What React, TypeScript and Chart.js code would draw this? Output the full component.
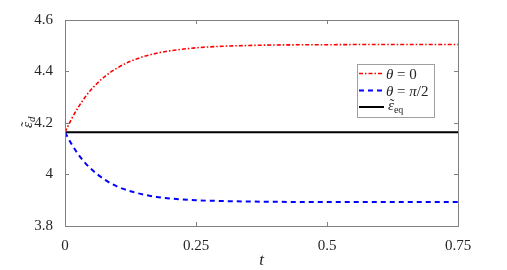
import React, { useEffect, useRef } from "react";
import { Chart, registerables } from "chart.js";

Chart.register(...registerables);

const tValues = [0, 0.0125, 0.025, 0.0375, 0.05, 0.075, 0.1, 0.125, 0.15, 0.175, 0.2, 0.25, 0.3, 0.35, 0.4, 0.5, 0.6, 0.75];
const thetaZero = [4.164, 4.216, 4.26, 4.298, 4.33, 4.379, 4.414, 4.44, 4.458, 4.471, 4.48, 4.492, 4.498, 4.501, 4.503, 4.504, 4.505, 4.505];
const thetaHalfPi = [4.164, 4.118, 4.079, 4.047, 4.021, 3.981, 3.953, 3.935, 3.922, 3.913, 3.907, 3.9, 3.897, 3.895, 3.894, 3.893, 3.893, 3.893];
const eqT = [0, 0.75];
const eqValue = 4.164;
const xTicks = [0, 0.25, 0.5, 0.75];
const yTicks = [3.8, 4, 4.2, 4.4, 4.6];

const SERIF = "'Liberation Serif', 'DejaVu Serif', serif";
const TEXT = "#262626";
const AXIS = "#808080";

function drawTildeEps(ctx: CanvasRenderingContext2D, x: number, y: number, size: number) {
  ctx.font = `italic ${size}px ${SERIF}`;
  ctx.textAlign = "left";
  ctx.fillText("ε", x, y);
  const w = ctx.measureText("ε").width;
  ctx.font = `${size}px ${SERIF}`;
  const tw = ctx.measureText("˜").width;
  ctx.fillText("˜", x + w / 2 - tw / 2 + 1, y - 1);
  return w;
}

const framePlugin = {
  id: "frame",
  afterDatasetsDraw(chart: any) {
    const { ctx, chartArea: a, scales } = chart;
    ctx.save();
    ctx.strokeStyle = AXIS;
    ctx.lineWidth = 1;
    ctx.setLineDash([]);
    ctx.strokeRect(Math.round(a.left) + 0.5, Math.round(a.top) + 0.5, Math.round(a.right - a.left), Math.round(a.bottom - a.top));
    const tl = 4;
    ctx.beginPath();
    for (const v of xTicks) {
      const px = Math.round(scales.x.getPixelForValue(v)) + 0.5;
      ctx.moveTo(px, a.bottom);
      ctx.lineTo(px, a.bottom - tl);
      ctx.moveTo(px, a.top);
      ctx.lineTo(px, a.top + tl);
    }
    for (const v of yTicks) {
      const py = Math.round(scales.y.getPixelForValue(v)) + 0.5;
      ctx.moveTo(a.left, py);
      ctx.lineTo(a.left + tl, py);
      ctx.moveTo(a.right, py);
      ctx.lineTo(a.right - tl, py);
    }
    ctx.stroke();

    // axis titles
    ctx.fillStyle = TEXT;
    ctx.font = `italic 17px ${SERIF}`;
    ctx.textAlign = "center";
    ctx.textBaseline = "alphabetic";
    ctx.fillText("t", (a.left + a.right) / 2, 265);

    ctx.save();
    ctx.translate(32, 121);
    ctx.rotate(-Math.PI / 2);
    const ew = drawTildeEps(ctx, -7, 0, 15);
    ctx.font = `italic 11px ${SERIF}`;
    ctx.textAlign = "left";
    ctx.fillText("d", -7 + ew, 3);
    ctx.restore();

    // legend
    const lx = 357, ly = 64, lw = 77, lh = 53;
    ctx.fillStyle = "#ffffff";
    ctx.fillRect(lx, ly, lw, lh);
    ctx.strokeStyle = "#a0a0a0";
    ctx.lineWidth = 1;
    ctx.strokeRect(lx + 0.5, ly + 0.5, lw, lh);
    const rows = [
      { y: 73.5, color: "#ff0000", dash: [4, 2, 1.5, 2], w: 1.6 },
      { y: 90.5, color: "#0000ff", dash: [5, 4], w: 2 },
      { y: 107, color: "#000000", dash: [], w: 2 },
    ];
    rows.forEach((r) => {
      ctx.beginPath();
      ctx.strokeStyle = r.color;
      ctx.lineWidth = r.w;
      ctx.setLineDash(r.dash);
      ctx.moveTo(359, r.y);
      ctx.lineTo(384, r.y);
      ctx.stroke();
    });
    ctx.setLineDash([]);
    ctx.fillStyle = TEXT;
    ctx.textAlign = "left";
    ctx.textBaseline = "alphabetic";
    const drawParts = (parts: { t: string; f: string; dy?: number }[], x: number, y: number) => {
      let cx = x;
      for (const p of parts) {
        ctx.font = p.f;
        ctx.fillText(p.t, cx, y + (p.dy || 0));
        cx += ctx.measureText(p.t).width;
      }
    };
    drawParts([{ t: "θ", f: `italic 15px ${SERIF}` }, { t: " = 0", f: `15px ${SERIF}` }], 386, 79);
    drawParts([{ t: "θ", f: `italic 15px ${SERIF}` }, { t: " = ", f: `15px ${SERIF}` }, { t: "π", f: `italic 15px ${SERIF}` }, { t: "/2", f: `15px ${SERIF}` }], 386, 96);
    const w2 = drawTildeEps(ctx, 388, 110, 15);
    ctx.font = `10px ${SERIF}`;
    ctx.fillText("eq", 388 + w2, 113);
    ctx.restore();
  },
};

export default function App() {
  const ref = useRef<HTMLCanvasElement | null>(null);
  useEffect(() => {
    document.body.style.margin = "0";
    const canvas = ref.current!;
    const chart = new Chart(canvas, {
      type: "line",
      data: {
        datasets: [
          {
            label: "θ = 0",
            data: tValues.map((t, i) => ({ x: t, y: thetaZero[i] })),
            borderColor: "#ff0000",
            borderWidth: 1.6,
            borderDash: [4, 2, 1.5, 2],
            pointRadius: 0,
            cubicInterpolationMode: "monotone",
            fill: false,
          },
          {
            label: "θ = π/2",
            data: tValues.map((t, i) => ({ x: t, y: thetaHalfPi[i] })),
            borderColor: "#0000ff",
            borderWidth: 2,
            borderDash: [5, 4],
            pointRadius: 0,
            cubicInterpolationMode: "monotone",
            fill: false,
          },
          {
            label: "eq",
            data: eqT.map((t) => ({ x: t, y: eqValue })),
            borderColor: "#000000",
            borderWidth: 2,
            pointRadius: 0,
            fill: false,
          },
        ],
      },
      options: {
        animation: false,
        responsive: false,
        layout: { padding: { top: 20, right: 49, left: 0, bottom: 0 } },
        plugins: { legend: { display: false }, tooltip: { enabled: false } },
        scales: {
          x: {
            type: "linear",
            min: 0,
            max: 0.75,
            grid: { display: false },
            border: { display: false },
            afterBuildTicks: (s: any) => {
              s.ticks = xTicks.map((v) => ({ value: v }));
            },
            afterFit: (s: any) => {
              s.height = 44;
            },
            ticks: {
              color: TEXT,
              padding: 3,
              maxRotation: 0,
              font: { family: SERIF, size: 15 },
              callback: (v: any) => String(Number(Number(v).toFixed(2))),
            },
          },
          y: {
            type: "linear",
            min: 3.8,
            max: 4.6,
            grid: { display: false },
            border: { display: false },
            afterBuildTicks: (s: any) => {
              s.ticks = yTicks.map((v) => ({ value: v }));
            },
            afterFit: (s: any) => {
              s.width = 65;
            },
            ticks: {
              color: TEXT,
              padding: 4,
              font: { family: SERIF, size: 15 },
              callback: (v: any) => String(Number(Number(v).toFixed(2))),
            },
          },
        },
      },
      plugins: [framePlugin],
    } as any);
    return () => chart.destroy();
  }, []);
  return (
    <div style={{ width: 507, height: 270, background: "#fff" }}>
      <canvas ref={ref} width={507} height={270} style={{ display: "block" }} />
    </div>
  );
}
